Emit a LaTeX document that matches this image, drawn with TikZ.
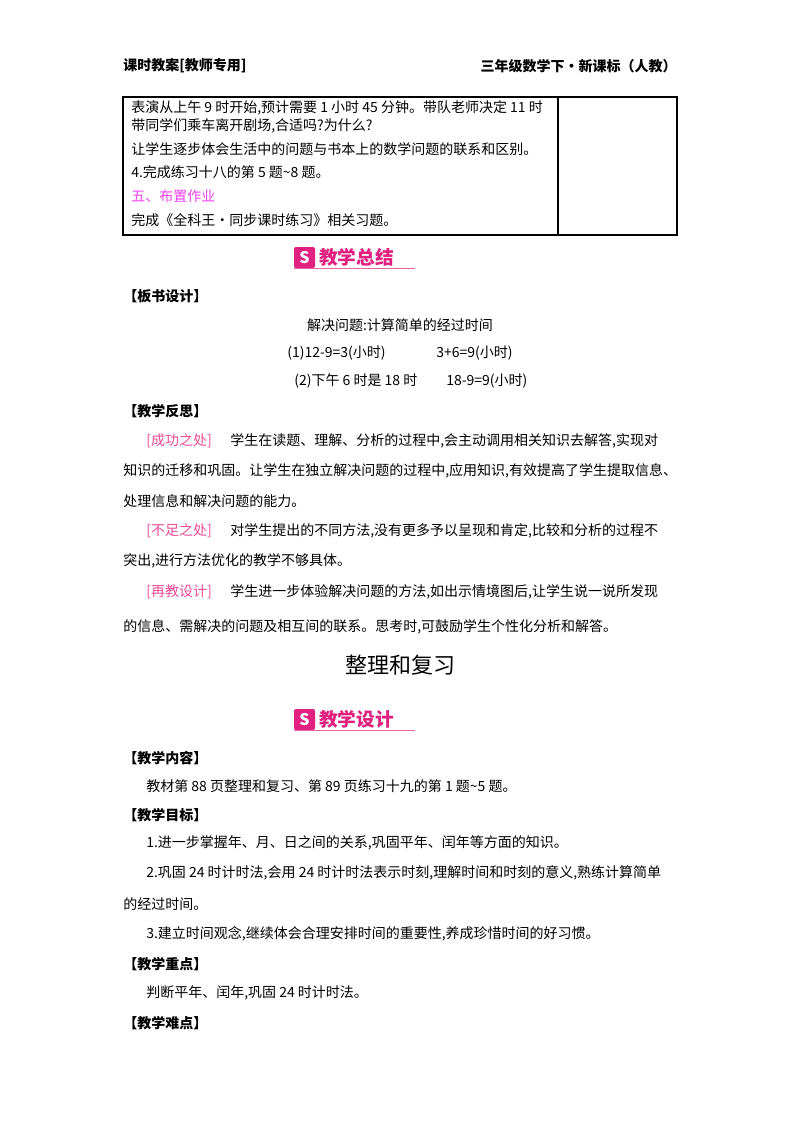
\documentclass[tikz,border=0pt]{standalone}
\usepackage{fontspec}
\setmainfont{Noto Sans CJK SC}
\newfontfamily\cjkb[BoldFont=* Bold]{Noto Sans CJK SC}
\definecolor{badge}{HTML}{E0217F}
\definecolor{pinktxt}{HTML}{EE4A98}
\definecolor{mag}{HTML}{F040F0}
\begin{document}
\begin{tikzpicture}[x=0.75pt,y=-0.75pt,
  every node/.style={inner sep=0pt,font=\fontsize{10.5}{12}\selectfont},
  tx/.style={anchor=west},
  hd/.style={anchor=west,font=\fontsize{10.5}{12}\selectfont\bfseries},
  bd/.style={anchor=west,text=badge,font=\fontsize{14}{16}\selectfont\bfseries}]
\useasboundingbox (0,0) rectangle (800,1132);
\fill[white] (0,0) rectangle (800,1132);
\node[hd] (h1) at (123,66) {课时教案[教师专用]};
\node[hd,anchor=east] (h2) at (677,66) {三年级数学下·新课标（人教）};
\draw[line width=1.2pt] (123,97) rectangle (677,235);
\draw[line width=0.9pt] (558,97) -- (558,235);
\node[tx] (t1) at (131,108) {表演从上午 9 时开始,预计需要 1 小时 45 分钟。带队老师决定 11 时};
\node[tx] (t2) at (131,126) {带同学们乘车离开剧场,合适吗?为什么?};
\node[tx] (t3) at (131,149) {让学生逐步体会生活中的问题与书本上的数学问题的联系和区别。};
\node[tx] (t4) at (131,172) {4.完成练习十八的第 5 题\~{}8 题。};
\node[tx,text=mag] (t5) at (131,196) {五、布置作业};
\node[tx] (t6) at (131,220) {完成《全科王·同步课时练习》相关习题。};
% badge 1
\fill[badge,rounded corners=1.5pt] (294,247) rectangle (315,268);
\node[text=white,font=\bfseries\fontsize{12}{12}\selectfont] (s1) at (304.5,257.5) {S};
\node[bd] (b1) at (319,257) {教学总结};
\draw[badge!70,line width=0.8pt] (294,268.5) -- (415,268.5);
\node[hd] (k1) at (123,296) {【板书设计】};
\node (c1) at (400,325) {解决问题:计算简单的经过时间};
\node[tx] (c2) at (287,353) {(1)12-9=3(小时)};
\node[tx] (c3) at (436,353) {3+6=9(小时)};
\node[tx] (c4) at (294,381) {(2)下午 6 时是 18 时};
\node[tx] (c5) at (446,381) {18-9=9(小时)};
\node[hd] (k2) at (123,411) {【教学反思】};
\node[tx,text=pinktxt] (p1) at (146,441) {[成功之处]};
\node[tx] (p1b) at (230,441) {学生在读题、理解、分析的过程中,会主动调用相关知识去解答,实现对};
\node[tx] (p2) at (123,471) {知识的迁移和巩固。让学生在独立解决问题的过程中,应用知识,有效提高了学生提取信息、};
\node[tx] (p3) at (123,501) {处理信息和解决问题的能力。};
\node[tx,text=pinktxt] (q1) at (146,531) {[不足之处]};
\node[tx] (q1b) at (230,531) {对学生提出的不同方法,没有更多予以呈现和肯定,比较和分析的过程不};
\node[tx] (q2) at (123,561) {突出,进行方法优化的教学不够具体。};
\node[tx,text=pinktxt] (r1) at (146,592) {[再教设计]};
\node[tx] (r1b) at (230,592) {学生进一步体验解决问题的方法,如出示情境图后,让学生说一说所发现};
\node[tx] (r2) at (123,627) {的信息、需解决的问题及相互间的联系。思考时,可鼓励学生个性化分析和解答。};
\node[font=\fontsize{16.5}{18}\selectfont] (ti) at (400,665) {整理和复习};
% badge 2
\fill[badge,rounded corners=1.5pt] (294,709) rectangle (315,730);
\node[text=white,font=\bfseries\fontsize{12}{12}\selectfont] (s2) at (304.5,719.5) {S};
\node[bd] (b2) at (319,719) {教学设计};
\draw[badge!70,line width=0.8pt] (294,730.5) -- (415,730.5);
\node[hd] (k3) at (123,758) {【教学内容】};
\node[tx] (n1) at (146,786) {教材第 88 页整理和复习、第 89 页练习十九的第 1 题\~{}5 题。};
\node[hd] (k4) at (123,815) {【教学目标】};
\node[tx] (g1) at (146,843) {1.进一步掌握年、月、日之间的关系,巩固平年、闰年等方面的知识。};
\node[tx] (g2) at (146,873) {2.巩固 24 时计时法,会用 24 时计时法表示时刻,理解时间和时刻的意义,熟练计算简单};
\node[tx] (g2b) at (123,904) {的经过时间。};
\node[tx] (g3) at (146,934) {3.建立时间观念,继续体会合理安排时间的重要性,养成珍惜时间的好习惯。};
\node[hd] (k5) at (123,964) {【教学重点】};
\node[tx] (z1) at (146,993) {判断平年、闰年,巩固 24 时计时法。};
\node[hd] (k6) at (123,1023) {【教学难点】};
\end{tikzpicture}
\end{document}
